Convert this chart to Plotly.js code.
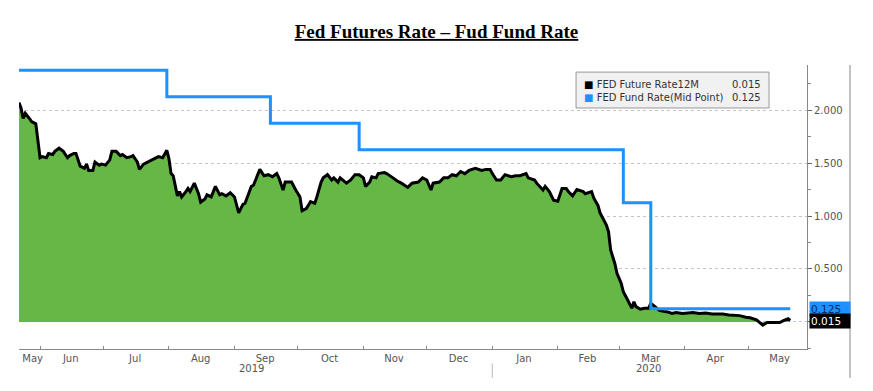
<!DOCTYPE html>
<html>
<head>
<meta charset="utf-8">
<script src="https://cdn.plot.ly/plotly-3.0.1.min.js"></script>
<style>html,body{margin:0;padding:0;background:#fff;}#chart{width:873px;height:391px;}</style>
</head>
<body>
<div id="chart"></div>
<script>
// Fed futures 12M rate (black line, green area)
var futDates = ["2019-05-22","2019-05-23","2019-05-24","2019-05-25","2019-05-27","2019-05-28","2019-05-30","2019-05-31",
"2019-06-01","2019-06-02","2019-06-04","2019-06-05","2019-06-07","2019-06-08","2019-06-10","2019-06-12","2019-06-14","2019-06-15","2019-06-17","2019-06-18","2019-06-20","2019-06-22","2019-06-23","2019-06-24","2019-06-26","2019-06-27","2019-06-29","2019-06-30",
"2019-07-02","2019-07-04","2019-07-05","2019-07-07","2019-07-09","2019-07-10","2019-07-12","2019-07-14","2019-07-15","2019-07-17","2019-07-18","2019-07-20","2019-07-22","2019-07-24","2019-07-25","2019-07-27","2019-07-29","2019-07-30","2019-07-31",
"2019-08-01","2019-08-02","2019-08-03","2019-08-05","2019-08-06","2019-08-07","2019-08-09","2019-08-10","2019-08-11","2019-08-13","2019-08-15","2019-08-16","2019-08-18","2019-08-19","2019-08-21","2019-08-23","2019-08-25","2019-08-26","2019-08-28","2019-08-30",
"2019-09-01","2019-09-03","2019-09-05","2019-09-06","2019-09-09","2019-09-10","2019-09-12","2019-09-13","2019-09-15","2019-09-17","2019-09-19","2019-09-21","2019-09-22","2019-09-24","2019-09-25","2019-09-28","2019-09-30",
"2019-10-02","2019-10-03","2019-10-05","2019-10-07","2019-10-09","2019-10-10","2019-10-12","2019-10-13","2019-10-15","2019-10-17","2019-10-18","2019-10-20","2019-10-21","2019-10-24","2019-10-26","2019-10-28","2019-10-30",
"2019-11-01","2019-11-02","2019-11-04","2019-11-05","2019-11-07","2019-11-08","2019-11-11","2019-11-12","2019-11-15","2019-11-17","2019-11-19","2019-11-22","2019-11-24","2019-11-27","2019-11-29",
"2019-12-01","2019-12-03","2019-12-04","2019-12-07","2019-12-09","2019-12-11","2019-12-13","2019-12-15","2019-12-17","2019-12-19","2019-12-21","2019-12-24","2019-12-27","2019-12-29","2019-12-31",
"2020-01-01","2020-01-03","2020-01-05","2020-01-07","2020-01-10","2020-01-12","2020-01-14","2020-01-17","2020-01-18","2020-01-21","2020-01-22","2020-01-25","2020-01-26","2020-01-28","2020-01-30",
"2020-02-01","2020-02-03","2020-02-05","2020-02-06","2020-02-08","2020-02-10","2020-02-13","2020-02-14","2020-02-17","2020-02-18","2020-02-20","2020-02-21","2020-02-23","2020-02-24","2020-02-25","2020-02-26","2020-02-28","2020-02-29",
"2020-03-02","2020-03-03","2020-03-05","2020-03-07","2020-03-08","2020-03-09","2020-03-11","2020-03-13","2020-03-15","2020-03-16","2020-03-18","2020-03-20","2020-03-22","2020-03-24","2020-03-26","2020-03-28","2020-03-31",
"2020-04-05","2020-04-08","2020-04-11","2020-04-14","2020-04-19","2020-04-22","2020-04-27","2020-04-30",
"2020-05-02","2020-05-05","2020-05-06","2020-05-08","2020-05-10","2020-05-13","2020-05-16","2020-05-18","2020-05-20","2020-05-21"];
var futValues = [2.07,2.02,1.92,1.97,1.92,1.89,1.87,1.72,
1.55,1.56,1.55,1.59,1.58,1.61,1.64,1.61,1.55,1.57,1.59,1.59,1.47,1.45,1.49,1.43,1.43,1.51,1.48,1.49,
1.48,1.53,1.61,1.61,1.57,1.58,1.55,1.56,1.57,1.51,1.44,1.49,1.51,1.53,1.54,1.56,1.55,1.58,1.62,
1.54,1.40,1.38,1.19,1.23,1.18,1.23,1.26,1.23,1.31,1.21,1.13,1.16,1.20,1.18,1.28,1.20,1.21,1.19,1.22,
1.18,1.03,1.11,1.12,1.28,1.29,1.39,1.44,1.38,1.39,1.37,1.40,1.36,1.245,1.32,1.32,1.245,
1.18,1.05,1.07,1.135,1.12,1.18,1.32,1.36,1.39,1.34,1.36,1.32,1.36,1.31,1.34,1.39,1.39,
1.36,1.28,1.32,1.37,1.36,1.40,1.41,1.40,1.36,1.33,1.31,1.27,1.31,1.32,1.36,
1.34,1.245,1.31,1.32,1.36,1.36,1.39,1.38,1.42,1.40,1.43,1.45,1.43,1.44,1.44,
1.40,1.34,1.34,1.39,1.37,1.38,1.38,1.40,1.36,1.34,1.31,1.245,1.28,1.23,1.15,
1.14,1.26,1.26,1.23,1.19,1.25,1.23,1.21,1.23,1.17,1.10,1.03,0.96,0.915,0.85,0.68,0.55,0.46,
0.365,0.285,0.21,0.13,0.19,0.145,0.12,0.13,0.13,0.175,0.145,0.11,0.10,0.095,0.08,0.09,0.08,
0.09,0.08,0.085,0.075,0.075,0.065,0.06,0.045,
0.04,0.02,0.005,-0.03,-0.005,-0.005,-0.005,0.015,0.03,0.015];

// Fed fund rate mid point (blue step line)
var fundDates = ["2019-05-22","2019-07-31","2019-09-18","2019-10-30","2020-03-03","2020-03-16","2020-05-21"];
var fundValues = [2.375,2.125,1.875,1.625,1.125,0.125,0.125];

// Axis labels
var monthTickVals = ["2019-05-28 12:00","2019-06-15 12:00","2019-07-16","2019-08-16","2019-09-15 12:00","2019-10-16","2019-11-15 12:00","2019-12-16","2020-01-16","2020-02-15","2020-03-16","2020-04-15 12:00","2020-05-16"];
var monthTickText = ["May","Jun","Jul","Aug","Sep","Oct","Nov","Dec","Jan","Feb","Mar","Apr","May"];
var yearLabels = ["2019","2020"];
var yearLabelDates = ["2019-09-09","2020-03-15"];
var yTickVals = [0,0.5,1,1.5,2];
var yTickText = ["","0.500","1.000","1.500","2.000"];
var seriesNames = ["FED Future Rate12M","FED Fund Rate(Mid Point)"];
var lastValues = ["0.015","0.125"];

var BLUE = "#1e90ff";
var tickFont = {family: "DejaVu Sans, Verdana, sans-serif", size: 10, color: "#555"};

var traces = [
  {x: futDates, y: futValues, type: "scatter", mode: "lines", fill: "tozeroy",
   fillcolor: "#65b846", line: {color: "#000", width: 3}, hoverinfo: "skip"},
  {x: fundDates, y: fundValues, type: "scatter", mode: "lines",
   line: {color: BLUE, width: 3, shape: "hv"}, hoverinfo: "skip"}
];

var annotations = [
  {xref: "x", yref: "paper", x: yearLabelDates[0], y: -0.068, text: yearLabels[0], showarrow: false, font: tickFont, yanchor: "middle"},
  {xref: "x", yref: "paper", x: yearLabelDates[1], y: -0.068, text: yearLabels[1], showarrow: false, font: tickFont, yanchor: "middle"},
  // legend rows
  {xref: "paper", yref: "paper", x: 0.7145, y: 0.933, xanchor: "left", yanchor: "middle", showarrow: false,
   text: "<span style='color:#000'>■</span> " + seriesNames[0], font: {family: "DejaVu Sans, sans-serif", size: 10, color: "#333"}},
  {xref: "paper", yref: "paper", x: 0.7145, y: 0.887, xanchor: "left", yanchor: "middle", showarrow: false,
   text: "<span style='color:" + BLUE + "'>■</span> " + seriesNames[1], font: {family: "DejaVu Sans, sans-serif", size: 10, color: "#333"}},
  {xref: "paper", yref: "paper", x: 0.944, y: 0.933, xanchor: "right", yanchor: "middle", showarrow: false,
   text: lastValues[0], font: {family: "DejaVu Sans, sans-serif", size: 10, color: "#333"}},
  {xref: "paper", yref: "paper", x: 0.944, y: 0.887, xanchor: "right", yanchor: "middle", showarrow: false,
   text: lastValues[1], font: {family: "DejaVu Sans, sans-serif", size: 10, color: "#333"}},
  // last value tags
  {xref: "paper", yref: "y", x: 1.002, y: fundValues[fundValues.length-1], xanchor: "left", yanchor: "middle", showarrow: false,
   text: lastValues[1], bgcolor: BLUE, width: 38, height: 12, borderpad: 1, align: "left",
   font: {family: "DejaVu Sans, sans-serif", size: 10.5, color: "#0a2a66"}},
  {xref: "paper", yref: "y", x: 1.002, y: futValues[futValues.length-1] - 0.005, xanchor: "left", yanchor: "middle", showarrow: false,
   text: lastValues[0], bgcolor: "#000", width: 38, height: 12, borderpad: 1, align: "left",
   font: {family: "DejaVu Sans, sans-serif", size: 10.5, color: "#fff"}}
];

var shapes = [
  {type: "rect", xref: "paper", yref: "paper", x0: 0.7069, x1: 0.9518, y0: 0.8486, y1: 0.975,
   fillcolor: "#f1f1f1", line: {color: "#999", width: 1}, layer: "above"},
  {type: "line", xref: "paper", yref: "paper", x0: 1.0546, x1: 1.0546, y0: 1.0, y1: -0.102,
   line: {color: "#888", width: 1}},
  {type: "line", xref: "x", yref: "paper", x0: "2020-01-01", x1: "2020-01-01", y0: -0.05, y1: -0.102,
   line: {color: "#bbb", width: 1}}
];

var layout = {
  width: 873, height: 391,
  margin: {l: 19, r: 66, t: 65, b: 42},
  paper_bgcolor: "#fff", plot_bgcolor: "#fff",
  showlegend: false,
  title: {text: "<b><u>Fed Futures Rate – Fud Fund Rate</u></b>", x: 0.5, xanchor: "center", y: 0.92, yanchor: "middle",
          font: {family: "Liberation Serif, Times New Roman, serif", size: 19, color: "#000"}},
  xaxis: {
    type: "date", range: ["2019-05-22 01:00", "2020-05-28 22:00"],
    tickmode: "array", tickvals: monthTickVals, ticktext: monthTickText,
    ticks: "", tickfont: tickFont, showgrid: false, zeroline: false,
    showline: true, linecolor: "#888", linewidth: 1,
    minor: {tickmode: "linear", tick0: "2019-06-01", dtick: "M1", ticks: "inside", ticklen: 3, tickcolor: "#888", showgrid: false},
    fixedrange: true
  },
  yaxis: {
    side: "right", range: [-0.255, 2.425],
    tickmode: "array", tickvals: yTickVals, ticktext: yTickText,
    ticks: "outside", ticklen: 4, tickcolor: "#666", tickfont: tickFont,
    showgrid: true, gridcolor: "#c4c4c4", griddash: "dot", gridwidth: 1,
    zeroline: false, showline: true, linecolor: "#888", linewidth: 1,
    minor: {tickmode: "linear", tick0: 0, dtick: 0.25, ticks: "outside", ticklen: 3, tickcolor: "#888", showgrid: false},
    fixedrange: true
  },
  annotations: annotations,
  shapes: shapes
};

Plotly.newPlot("chart", traces, layout, {displayModeBar: false, staticPlot: true});
</script>
</body>
</html>
